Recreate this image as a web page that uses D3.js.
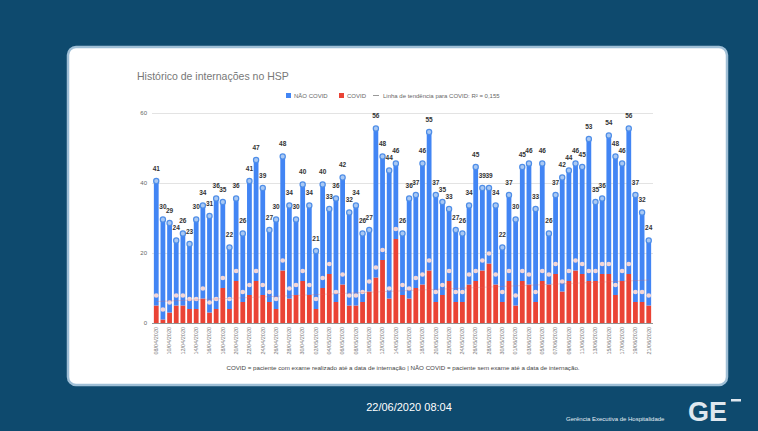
<!DOCTYPE html>
<html>
<head>
<meta charset="utf-8">
<script src="https://cdn.jsdelivr.net/npm/d3@7"></script>
<style>
  body { margin: 0; background: #0e4a6e; }
  svg { display: block; font-family: Arial, "Liberation Sans", sans-serif; }
</style>
</head>
<body>
<svg width="758" height="431"></svg>
<script>
// Dias de 08/04/2020 a 21/06/2020
var dias = d3.timeDay.range(new Date(2020, 3, 8), new Date(2020, 5, 22));

// Pacientes COVID (vermelho) e NÃO COVID (azul)
var covid = [5, 1, 3, 5, 5, 4, 4, 7, 3, 4, 10, 4, 12, 6, 8, 12, 8, 6, 4, 15,
  7, 8, 12, 8, 4, 10, 14, 6, 11, 5, 5, 6, 9, 13, 18, 7, 24, 8, 7, 10,
  11, 15, 6, 8, 12, 6, 6, 11, 12, 15, 17, 11, 6, 12, 5, 12, 11, 6, 12, 11,
  14, 9, 12, 15, 14, 12, 12, 14, 14, 8, 12, 14, 6, 6, 5];
var naoCovid = [36, 29, 26, 19, 21, 19, 26, 27, 28, 32, 25, 18, 24, 20, 33, 35, 31, 21, 26, 33,
  27, 22, 28, 26, 17, 30, 19, 30, 31, 27, 29, 20, 18, 43, 30, 37, 22, 18, 29, 27,
  35, 40, 31, 27, 21, 21, 20, 23, 33, 24, 22, 23, 16, 25, 25, 33, 35, 27, 34, 15,
  23, 33, 32, 31, 31, 41, 23, 22, 40, 40, 34, 42, 31, 26, 19];

var yTicks = [0, 20, 40, 60];

var svg = d3.select("svg");
var fmt = d3.timeFormat("%d/%m/%Y");

var data = dias.map(function(d, i) {
  return { dia: d, covid: covid[i], nao: naoCovid[i], total: covid[i] + naoCovid[i] };
});

// painel branco
svg.append("rect")
  .attr("x", 68).attr("y", 47)
  .attr("width", 659).attr("height", 338)
  .attr("rx", 8)
  .attr("fill", "#ffffff")
  .attr("stroke", "#9fbfd6")
  .attr("stroke-width", 2.5);

svg.append("text")
  .attr("x", 137).attr("y", 80)
  .attr("font-size", 10.5)
  .attr("fill", "#777")
  .text("Histórico de internações no HSP");

// escalas
var x = d3.scaleBand().domain(dias).range([152, 653]).padding(0.28);
var y = d3.scaleLinear().domain([0, 60]).range([323, 113]);

// grade + eixo y
var yAxis = svg.append("g")
  .attr("transform", "translate(152,0)")
  .call(d3.axisLeft(y).tickValues(yTicks).tickSize(-501).tickPadding(5));
yAxis.select(".domain").remove();
yAxis.selectAll("line").attr("stroke", "#dcdcdc").attr("stroke-width", 0.8);
yAxis.selectAll("text").attr("font-size", 6).attr("fill", "#666");
yAxis.selectAll(".tick").filter(function(d) { return d === 0; })
  .select("line").attr("stroke", "#777");

// barras empilhadas
var stack = d3.stack().keys(["covid", "nao"])(data);
var cores = { covid: "#ea4335", nao: "#4285f4" };

svg.append("g").selectAll("g")
  .data(stack)
  .enter().append("g")
  .attr("fill", function(s) { return cores[s.key]; })
  .selectAll("rect")
  .data(function(s) { return s; })
  .enter().append("rect")
  .attr("x", function(d) { return x(d.data.dia); })
  .attr("y", function(d) { return y(d[1]); })
  .attr("width", x.bandwidth())
  .attr("height", function(d) { return y(d[0]) - y(d[1]); });

var cx = function(d) { return x(d.dia) + x.bandwidth() / 2; };

// marcadores do COVID (rosados)
svg.append("g").selectAll("ellipse")
  .data(data)
  .enter().append("ellipse")
  .attr("cx", cx)
  .attr("cy", function(d) { return y(d.covid) - 10; })
  .attr("rx", 2.4).attr("ry", 2.2)
  .attr("fill", "#f3d6d6");

// marcadores do total (azuis)
svg.append("g").selectAll("circle")
  .data(data)
  .enter().append("circle")
  .attr("cx", cx)
  .attr("cy", function(d) { return y(d.total) + 1.5; })
  .attr("r", 2.6)
  .attr("fill", "#a9c8f3")
  .attr("stroke", "#4f8ee8")
  .attr("stroke-width", 1.2);

// linha de tendência COVID
var n = data.length,
    mx = d3.mean(data, function(d, i) { return i; }),
    my = d3.mean(covid);
var b = d3.sum(data, function(d, i) { return (i - mx) * (d.covid - my); }) /
        d3.sum(data, function(d, i) { return (i - mx) * (i - mx); });
var a = my - b * mx;
svg.append("line")
  .attr("x1", cx(data[0])).attr("y1", y(a))
  .attr("x2", cx(data[n - 1])).attr("y2", y(a + b * (n - 1)))
  .attr("stroke", "#e06666")
  .attr("stroke-width", 0.8)
  .attr("opacity", 0.35);

// rótulos com o total
svg.append("g").selectAll("text")
  .data(data)
  .enter().append("text")
  .attr("x", cx)
  .attr("y", function(d) { return y(d.total) - 9; })
  .attr("text-anchor", "middle")
  .attr("font-size", 6.5)
  .attr("font-weight", "bold")
  .attr("fill", "#333")
  .text(function(d) { return d.total; });

// eixo x (datas a cada 2 dias)
var xAxis = svg.append("g")
  .attr("transform", "translate(0,323)")
  .call(d3.axisBottom(x)
    .tickValues(dias.filter(function(d, i) { return i % 2 === 0; }))
    .tickFormat(fmt)
    .tickSize(0));
xAxis.select(".domain").remove();
xAxis.selectAll(".tick text")
  .attr("font-size", 5.5)
  .attr("fill", "#777")
  .attr("transform", "rotate(-90)")
  .attr("text-anchor", "end")
  .attr("x", -4).attr("y", 0)
  .attr("dy", "0.32em");

// legenda
var leg = svg.append("g").attr("font-size", 6).attr("fill", "#666");
leg.append("rect").attr("x", 286).attr("y", 93).attr("width", 5).attr("height", 5).attr("fill", "#4285f4");
leg.append("text").attr("x", 294).attr("y", 98).text("NÃO COVID");
leg.append("rect").attr("x", 339).attr("y", 93).attr("width", 5).attr("height", 5).attr("fill", "#ea4335");
leg.append("text").attr("x", 347).attr("y", 98).text("COVID");
leg.append("line").attr("x1", 373).attr("x2", 379).attr("y1", 95.5).attr("y2", 95.5)
  .attr("stroke", "#999").attr("stroke-width", 1);
leg.append("text").attr("x", 383).attr("y", 98).text("Linha de tendência para COVID: R² = 0,155");

// nota
svg.append("text")
  .attr("x", 403).attr("y", 370)
  .attr("text-anchor", "middle")
  .attr("font-size", 6.2)
  .attr("fill", "#444")
  .text("COVID = paciente com exame realizado até a data de internação | NÃO COVID = paciente sem exame até a data de internação.");

// rodapé
svg.append("text")
  .attr("x", 409).attr("y", 411)
  .attr("text-anchor", "middle")
  .attr("font-size", 11)
  .attr("fill", "#ffffff")
  .text("22/06/2020 08:04");

svg.append("text")
  .attr("x", 566).attr("y", 421)
  .attr("font-size", 6)
  .attr("fill", "#e6eef5")
  .text("Gerência Executiva de Hospitalidade");

svg.append("text")
  .attr("x", 688).attr("y", 421)
  .attr("font-size", 27)
  .attr("font-weight", "bold")
  .attr("fill", "#dfe7ef")
  .text("GE");
svg.append("rect")
  .attr("x", 731).attr("y", 399).attr("width", 10).attr("height", 2.5)
  .attr("fill", "#dfe7ef");
</script>
</body>
</html>
